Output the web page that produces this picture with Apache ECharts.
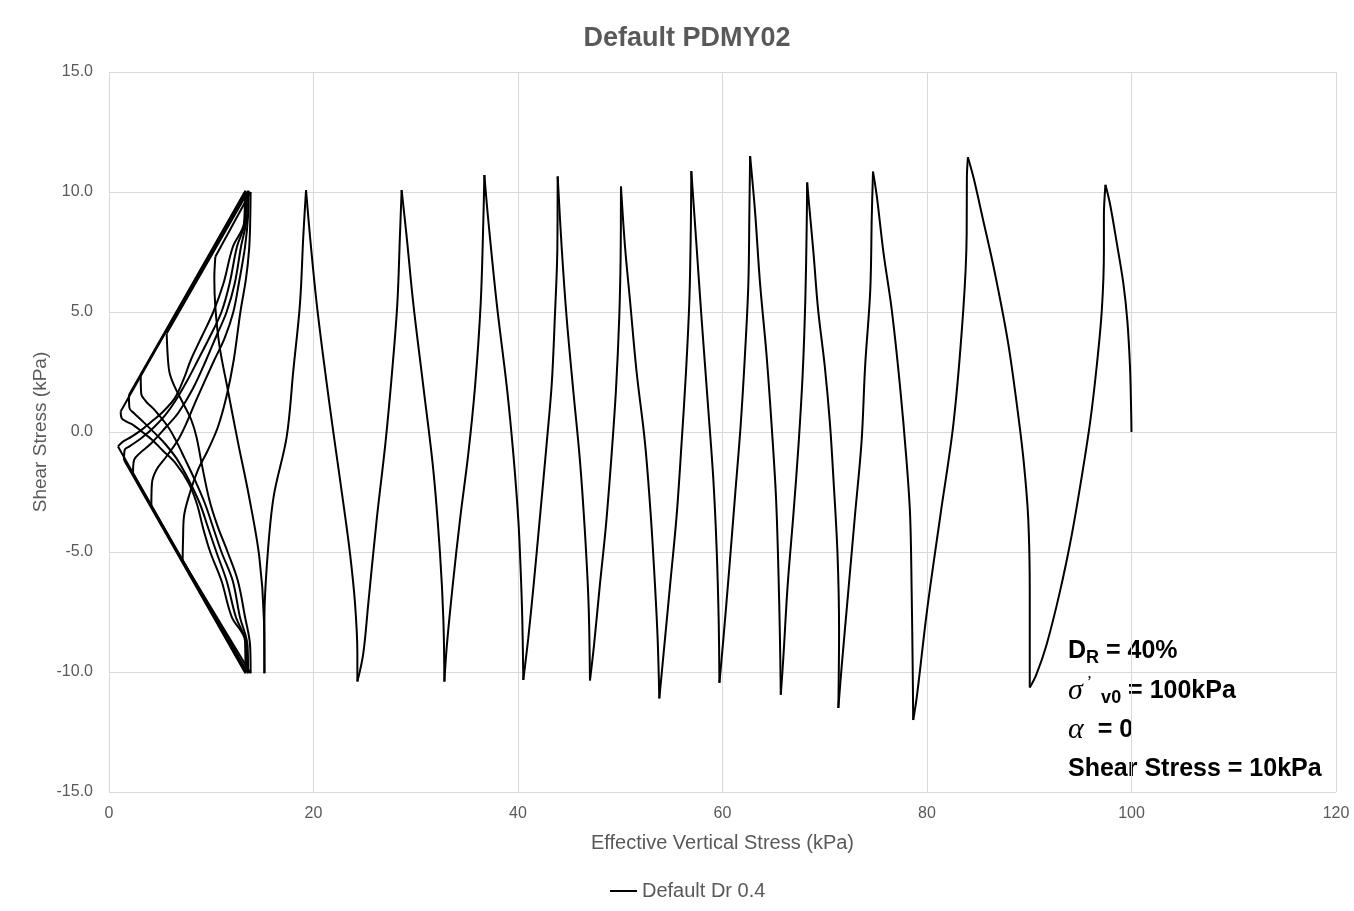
<!DOCTYPE html>
<html>
<head>
<meta charset="utf-8">
<title>Default PDMY02</title>
<script src="https://cdn.jsdelivr.net/npm/echarts@6/dist/echarts.min.js"></script>
<style>
html, body { margin: 0; padding: 0; background: #fff; }
#chart { width: 1354px; height: 911px; }
</style>
</head>
<body>
<div id="chart"></div>
<script>
// axis ranges
const xRange = [0, 120, 20];
const yRange = [-15, 15, 5];

// stress path, in time order (starts at 100 kPa, 0)
// each array is one half cycle: peak -> trough or trough -> peak
const h01 = [[100, 0], [99.95, 1.2], [99.85, 2.75], [99.6, 4.6], [99.2, 6.2], [98.55, 7.9], [97.9, 9.5], [97.45, 10.3]];
const h02 = [[97.3, 9.0], [97.3, 7.5], [97.1, 5.1], [96.6, 2.75], [95.95, 0.4], [95.1, -1.95], [94.15, -4.3], [93.0, -6.65], [91.7, -8.85], [90.7, -10.1], [90.05, -10.65]];
const h03 = [[90.05, -8.5], [90.05, -6.65], [89.9, -3.6], [89.45, -1.2], [88.8, 1.1], [87.9, 3.8], [86.6, 6.7], [85.4, 9.0], [84.55, 10.6], [84.0, 11.45]];
const h04 = [[83.9, 10.6], [83.88, 8.25], [83.55, 5.1], [82.6, 0.4], [81.3, -3.5], [80.0, -7.45], [79.0, -11.05], [78.65, -12.0]];
const h05 = [[78.6, -9.8], [78.5, -6.65], [78.35, -3.5], [78.0, -1.2], [77.35, 1.95], [76.55, 5.1], [75.75, 7.45], [75.1, 9.8], [74.72, 10.85]];
const h06 = [[74.6, 9.0], [74.45, 5.9], [73.95, 2.75], [73.6, -0.4], [72.95, -3.5], [72.3, -6.65], [71.65, -9.8], [71.33, -11.5]];
const h07 = [[71.4, -8.25], [71.25, -5.1], [70.85, -1.95], [70.5, 0.4], [70.0, 2.75], [69.35, 5.1], [68.9, 7.45], [68.4, 9.8], [68.28, 10.4]];
const h08 = [[68.23, 8.45], [68.1, 5.5], [67.85, 2.5], [67.45, -0.45], [66.93, -3.45], [66.37, -6.4], [65.95, -9.4], [65.7, -10.95]];
const h09 = [[65.62, -8.65], [65.46, -5.65], [65.23, -2.7], [64.8, 0.3], [64.3, 3.25], [63.67, 6.2], [63.18, 9.2], [62.7, 11.5]];
const h10 = [[62.63, 9.2], [62.53, 6.2], [62.2, 3.25], [61.78, 0.3], [61.22, -2.7], [60.67, -5.65], [60.08, -8.65], [59.7, -10.45]];
const h11 = [[59.63, -7.9], [59.43, -4.9], [59.1, -1.95], [58.6, 1.0], [57.95, 4.75], [57.47, 7.7], [56.95, 10.87]];
const h12 = [[56.9, 8.45], [56.76, 5.5], [56.43, 2.5], [56.0, -0.45], [55.52, -3.45], [54.87, -6.4], [54.2, -9.4], [53.82, -11.1]];
const h13 = [[53.66, -8.65], [53.4, -6.4], [52.98, -3.45], [52.42, -0.45], [51.6, 2.5], [50.95, 5.5], [50.47, 7.7], [50.07, 10.23]];
const h14 = [[50.04, 7.4], [49.9, 4.75], [49.58, 1.75], [49.16, -0.9], [48.6, -3.9], [48.0, -6.4], [47.43, -8.9], [47.04, -10.35]];
const h15 = [[46.9, -7.15], [46.55, -4.2], [46.06, -1.2], [45.4, 1.75], [44.76, 4.75], [44.27, 7.7], [43.88, 10.65]];
const h16 = [[43.85, 7.7], [43.6, 4.75], [43.3, 2.0], [42.8, -0.5], [42.2, -3.3], [41.5, -6.5], [41.0, -8.6], [40.7, -9.7], [40.52, -10.33]];
const h17 = [[40.42, -7.8], [40.26, -5.75], [40.03, -3.65], [39.54, -0.9], [38.9, 1.9], [37.92, 5.35], [37.1, 8.8], [36.71, 10.71]];
const h18 = [[36.61, 8.8], [36.35, 5.35], [35.8, 1.9], [35.14, -0.9], [34.33, -3.65], [33.6, -6.45], [33.03, -8.95], [32.8, -10.4]];
const h19 = [[32.7, -7.8], [32.37, -5.05], [31.72, -1.6], [30.74, 1.9], [29.76, 5.35], [29.11, 8.14], [28.62, 10.08]];
const h20 = [[28.45, 8.14], [28.2, 5.36], [27.7, 2.58], [27.05, -0.4], [26.18, -3.65], [25.36, -7.14], [24.87, -9.22], [24.29, -10.4]];
const h21 = [[24.29, -9.22], [24.06, -7.14], [23.57, -5.06], [22.92, -2.97], [22.0, -0.19], [21.12, 2.58], [20.31, 5.36], [19.66, 8.14], [19.27, 10.08]];
const h22 = [[19.0, 8.14], [18.68, 5.36], [18.03, 2.58], [17.38, -0.19], [16.1, -2.7], [15.5, -5.2], [15.2, -7.8], [15.2, -10.05]];

// butterfly loops near liquefaction: contraction part, then the run along the failure line
const l1 = [[15.15, -7.8], [14.7, -5.2], [13.7, -2.7], [12.6, -0.4], [11.6, 1.8], [10.8, 3.6], [10.4, 5.2], [10.3, 6.4], [10.4, 7.3]];
const top1 = [[13.85, 10.0]];
const u1 = [[13.8, 8.6], [13.7, 7.6], [13.4, 6.4], [12.85, 5.0], [12.2, 3.0], [11.5, 1.5], [10.66, 0.22], [9.68, -0.75], [8.7, -1.58], [7.9, -2.55], [7.33, -3.53], [7.24, -4.5], [7.2, -5.35]];
const bot1 = [[13.85, -10.05]];
const l2 = [[13.8, -8.9], [13.3, -7.7], [12.6, -6.2], [11.6, -5.0], [10.6, -3.9], [9.8, -2.8], [9.1, -1.4], [8.55, -0.2], [8.05, 0.5], [7.24, 1.2], [6.42, 1.89], [5.94, 2.44], [5.77, 3.0], [5.64, 4.1]];
const top2 = [[13.65, 10.05]];
const u2 = [[13.6, 9.0], [13.3, 7.7], [12.7, 6.2], [12.16, 5.0], [11.3, 3.9], [10.3, 3.0], [8.5, 1.3], [7.5, 0.3], [6.75, -0.33], [5.6, -1.03], [4.63, -1.58], [4.2, -2.14], [4.14, -3.1]];
const bot2 = [[13.6, -10.05]];
const l3 = [[13.55, -8.9], [12.8, -7.7], [12.1, -6.2], [11.0, -5.0], [10.2, -4.0], [9.4, -3.0], [8.4, -2.0], [7.4, -1.1], [6.6, -0.4], [5.8, 0.2], [4.45, 0.92], [3.65, 1.26], [3.15, 1.6], [3.1, 2.37]];
const top3 = [[13.5, 10.0]];
const u3 = [[13.45, 8.9], [12.9, 7.7], [12.3, 6.2], [11.5, 5.0], [10.5, 4.0], [9.5, 3.0], [8.2, 1.8], [6.75, 0.78], [5.6, 0.22], [4.14, -0.47], [3.0, -0.89], [2.45, -1.17], [2.35, -1.72]];
const bot3 = [[13.45, -10.0]];
const l4 = [[13.4, -8.8], [12.4, -7.7], [11.5, -6.2], [10.5, -5.0], [9.7, -4.0], [8.9, -3.0], [7.8, -2.0], [6.6, -1.1], [5.5, -0.5], [4.6, -0.1], [3.4, 0.4], [2.45, 0.78], [2.0, 1.0], [1.95, 1.54]];
const top4 = [[13.35, 10.05]];
const u4 = [[13.3, 8.8], [12.5, 7.7], [11.8, 6.2], [11.0, 5.0], [9.9, 4.0], [8.7, 3.0], [7.6, 2.1], [6.5, 1.3], [5.5, 0.7], [4.45, 0.22], [3.15, -0.26], [2.0, -0.6], [1.53, -0.75], [1.47, -1.17]];
const bot4 = [[13.35, -10.05]];
const l5 = [[13.3, -8.7], [12.0, -7.7], [11.0, -6.2], [9.9, -5.0], [9.2, -4.0], [8.6, -3.0], [7.8, -2.14], [6.5, -1.3], [5.2, -0.75], [4.23, -0.33], [3.26, 0.0], [2.38, 0.29], [1.72, 0.43], [1.24, 0.57], [1.14, 0.85]];
const top5 = [[13.3, 10.0]];
const u5 = [[13.2, 8.7], [12.1, 7.7], [11.2, 6.2], [10.2, 5.0], [9.1, 4.0], [8.0, 3.0], [7.3, 2.2], [6.42, 1.4], [5.12, 0.78], [4.14, 0.43], [3.15, 0.08], [2.18, -0.2], [1.37, -0.4], [0.88, -0.6]];
const bot5 = [[13.3, -10.0]];

const pieces = [
  h01, h02, h03, h04, h05, h06, h07, h08, h09, h10, h11,
  h12, h13, h14, h15, h16, h17, h18, h19, h20, h21, h22,
  l1, top1, u1, bot1, l2, top2, u2, bot2, l3, top3,
  u3, bot3, l4, top4, u4, bot4, l5, top5, u5, bot5
];

const gray = '#595959';
const sans = '"Liberation Sans", Arial, sans-serif';
const serif = '"Liberation Serif", "DejaVu Serif", serif';
const seriesName = 'Default Dr 0.4';

// one line series per piece so the reversal points stay sharp
const series = [];
let last = null;
pieces.forEach(p => {
  const data = last ? [last].concat(p) : p.slice();
  last = p[p.length - 1];
  series.push({
    name: seriesName,
    type: 'line',
    data: data,
    symbol: 'none',
    smooth: 0.35,
    lineStyle: { color: '#000', width: 2 },
    itemStyle: { color: '#000' }
  });
});

const rich = {
  b: { fontFamily: sans, fontSize: 25, fontWeight: 'bold', color: '#000', lineHeight: 32, verticalAlign: 'middle' },
  sub: { fontFamily: sans, fontSize: 18, fontWeight: 'bold', color: '#1f3f77', lineHeight: 17, verticalAlign: 'bottom' },
  sup: { fontFamily: serif, fontSize: 16, color: '#000', lineHeight: 16, verticalAlign: 'top' },
  gk: { fontFamily: serif, fontSize: 30, fontStyle: 'italic', color: '#000', lineHeight: 32, verticalAlign: 'middle' }
};

const chart = echarts.init(document.getElementById('chart'));
chart.setOption({
  animation: false,
  backgroundColor: '#fff',
  title: {
    text: 'Default PDMY02',
    left: 682,
    top: 20,
    textAlign: 'center',
    textStyle: { fontFamily: sans, fontSize: 27, fontWeight: 'bold', color: gray }
  },
  grid: { left: 109, right: 18, top: 72, bottom: 119 },
  legend: {
    data: [seriesName],
    left: 605,
    top: 876,
    icon: 'rect',
    itemWidth: 27,
    itemHeight: 2,
    textStyle: { fontFamily: sans, fontSize: 20, color: gray }
  },
  xAxis: {
    type: 'value',
    min: xRange[0], max: xRange[1], interval: xRange[2],
    name: 'Effective Vertical Stress (kPa)',
    nameLocation: 'middle',
    nameGap: 41,
    nameTextStyle: { fontFamily: sans, fontSize: 20, color: gray },
    axisLine: { show: true, lineStyle: { color: '#d9d9d9' } },
    axisTick: { show: false },
    axisLabel: { margin: 14, fontFamily: sans, fontSize: 16, color: gray },
    splitLine: { show: true, lineStyle: { color: '#d9d9d9', width: 1 } }
  },
  yAxis: {
    type: 'value',
    min: yRange[0], max: yRange[1], interval: yRange[2],
    name: 'Shear Stress (kPa)',
    nameLocation: 'middle',
    nameGap: 59,
    nameMoveOverlap: false,
    nameTextStyle: { fontFamily: sans, fontSize: 19, color: gray },
    axisLine: { show: true, lineStyle: { color: '#d9d9d9' } },
    axisTick: { show: false },
    axisLabel: { margin: 16, fontFamily: sans, fontSize: 16, color: gray, formatter: v => v.toFixed(1) },
    splitLine: { show: true, lineStyle: { color: '#d9d9d9', width: 1 } }
  },
  series: series,
  graphic: [
    { type: 'text', left: 1068, top: 639, style: { text: '{b|D}{sub|R}{b| = 40%}', rich: rich } },
    { type: 'text', left: 1068, top: 675, style: { text: '{gk|σ}{sup| ’ }{sub| v0}{b| = 100kPa}', rich: rich } },
    { type: 'text', left: 1068, top: 715, style: { text: '{gk|α}{b|  = 0}', rich: rich } },
    { type: 'text', left: 1068, top: 757, style: { text: '{b|Shear Stress = 10kPa}', rich: rich } }
  ]
});
</script>
</body>
</html>
